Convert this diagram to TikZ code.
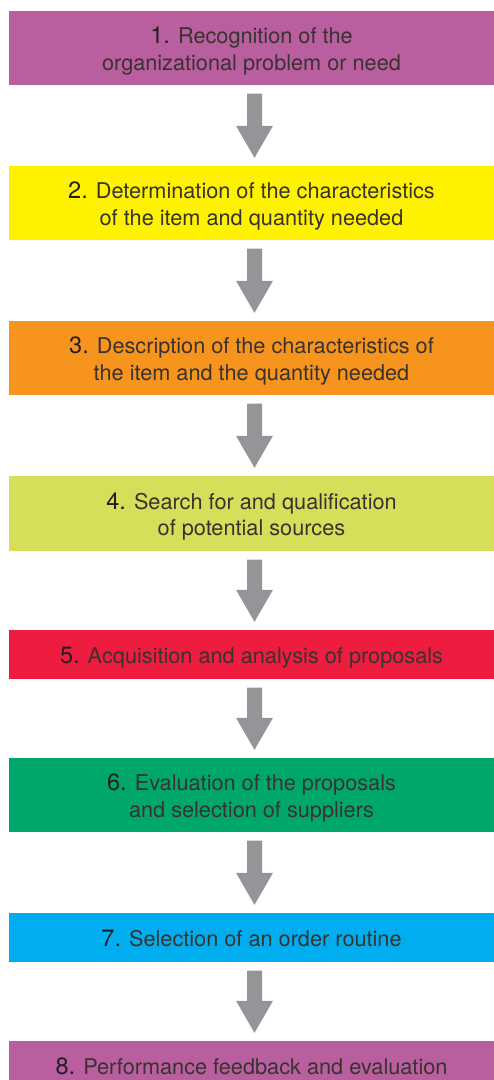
\documentclass[tikz,border=0pt]{standalone}
\usepackage{fontspec}
\setmainfont{TeX Gyre Heros}
\usetikzlibrary{calc}

\definecolor{stagepurple}{HTML}{B95E9F}
\definecolor{stageyellow}{HTML}{FFF200}
\definecolor{stageorange}{HTML}{F7941D}
\definecolor{stagelime}{HTML}{D7DF5A}
\definecolor{stagered}{HTML}{EE1D3F}
\definecolor{stagegreen}{HTML}{00A76B}
\definecolor{stagecyan}{HTML}{00AEEF}
\definecolor{arrowgray}{HTML}{939598}
\definecolor{inktext}{HTML}{231F20}
\definecolor{softtext}{HTML}{38332F}

% step number, a little larger and darker than the description
\newcommand{\stepno}[1]{{\fontsize{23.6}{26.8}\selectfont\color{inktext}#1}}
% centred lines, set slightly below the box centre
\newcommand{\stagetext}[1]{\raisebox{-3.6pt}[\height][\depth]{\begin{tabular}{@{}c@{}}#1\end{tabular}}}

\tikzset{
  stagebox/.style={fill=#1, draw=none, minimum width=485pt, inner sep=0pt,
    text=softtext, font=\fontsize{21.7}{26.8}\selectfont},
  tallbox/.style={minimum height=74pt},
  flatbox/.style={minimum height=49pt},
}

\begin{document}
\begin{tikzpicture}[x=1pt,y=1pt]
\useasboundingbox (0,0) rectangle (494,-1080);
\clip (0,0) rectangle (494,-1080);

\node[stagebox=stagepurple, tallbox] (s1) at (251.5,-48)
  {\stagetext{\stepno{1.} Recognition of the\\organizational problem or need}};
\node[stagebox=stageyellow, tallbox] (s2) at (251.5,-203)
  {\stagetext{\stepno{2.} Determination of the characteristics\\of the item and quantity needed}};
\node[stagebox=stageorange, tallbox] (s3) at (251.5,-358)
  {\stagetext{\stepno{3.} Description of the characteristics of\\the item and the quantity needed}};
\node[stagebox=stagelime, tallbox, minimum height=75pt] (s4) at (251.5,-513.5)
  {\stagetext{\stepno{4.} Search for and qualification\\of potential sources}};
\node[stagebox=stagered, flatbox] (s5) at (251.5,-654.5)
  {\stagetext{\stepno{5.} Acquisition and analysis of proposals}};
\node[stagebox=stagegreen, tallbox] (s6) at (251.5,-795)
  {\stagetext{\stepno{6.} Evaluation of the proposals\\and selection of suppliers}};
\node[stagebox=stagecyan, flatbox] (s7) at (251.5,-937.5)
  {\stagetext{\stepno{7.} Selection of an order routine}};
\node[stagebox=stagepurple, flatbox] (s8) at (251.5,-1065.5)
  {\stagetext{\stepno{8.} Performance feedback and evaluation}};

% block arrows between consecutive stages
\foreach \a/\b in {s1/s2, s2/s3, s3/s4, s4/s5, s5/s6, s6/s7, s7/s8}{
  \fill[arrowgray]
    ($(\a.south)+(-4.5,-8.5)$) -- ($(\a.south)+(10.5,-8.5)$)
    -- ($(\b.north)+(10.5,40)$) -- ($(\b.north)+(21.5,40)$)
    -- ($(\b.north)+(3,8)$)
    -- ($(\b.north)+(-15.5,40)$) -- ($(\b.north)+(-4.5,40)$) -- cycle;
}
\end{tikzpicture}
\end{document}
